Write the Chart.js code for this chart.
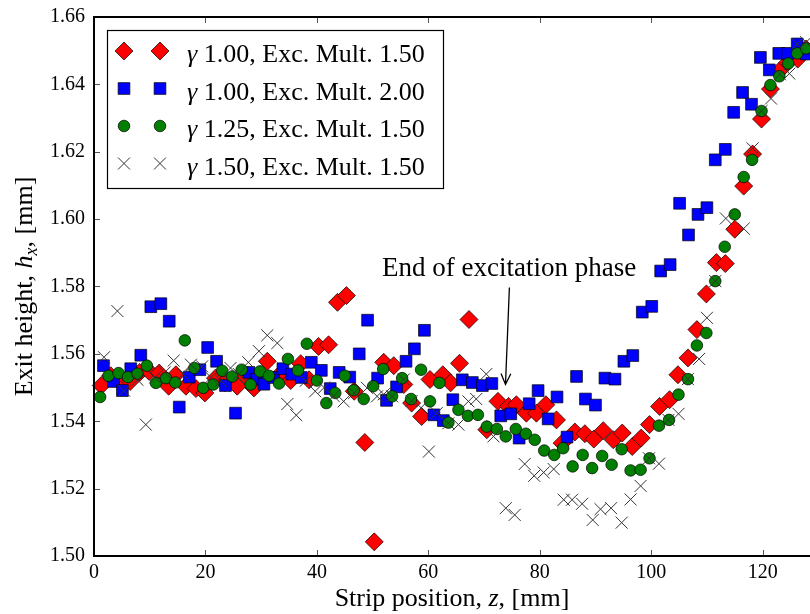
<!DOCTYPE html>
<html>
<head>
<meta charset="utf-8">
<script src="https://cdn.jsdelivr.net/npm/chart.js@4.4.0/dist/chart.umd.min.js"></script>
<style>
html, body { margin: 0; padding: 0; background: #fff; }
</style>
</head>
<body>
<canvas id="exitChart" width="810" height="614"></canvas>
<script>
const FONT = "'Liberation Serif', 'DejaVu Serif', serif";

// gamma 1.00, excitation multiplier 1.50 (red diamonds)
const g100m150_z = [1.3,3.0,4.8,6.5,8.2,9.9,11.7,13.4,14.7,16.5,18.3,19.9,21.8,23.5,25.7,27.2,28.7,31.1,33.4,35.3,37.1,38.6,40.3,42.1,43.7,45.3,46.7,48.6,50.3,52.0,53.8,55.6,57.0,58.8,60.3,62.6,64.0,65.6,67.3,70.5,72.5,74.4,75.8,77.6,79.4,81.1,83.0,84.0,86.3,88.1,89.7,91.4,93.2,94.8,96.6,98.2,99.7,101.5,103.3,104.8,106.6,108.2,109.9,111.7,113.3,115.0,116.6,118.2,119.8,121.4,123.0,124.5,126.3,127.8];
const g100m150_h = [1.5506,1.5535,1.5525,1.5518,1.5545,1.5548,1.5543,1.5504,1.5538,1.5504,1.5497,1.5484,1.5528,1.5515,1.5504,1.5535,1.5499,1.5578,1.5540,1.5521,1.5571,1.5523,1.5622,1.5627,1.5753,1.5773,1.5489,1.5337,1.5042,1.5575,1.5565,1.5509,1.5454,1.5414,1.5524,1.5538,1.5514,1.5572,1.5702,1.5375,1.5459,1.5444,1.5449,1.5424,1.5424,1.5449,1.5404,1.5335,1.5368,1.5363,1.5347,1.5372,1.5345,1.5365,1.5325,1.5350,1.5390,1.5444,1.5464,1.5538,1.5588,1.5672,1.5778,1.5871,1.5868,1.5970,1.6098,1.6193,1.6297,1.6386,1.6440,1.6465,1.6475,1.6505];

// gamma 1.00, excitation multiplier 2.00 (blue squares)
const g100m200_z = [1.7,3.5,5.1,6.6,8.4,10.2,12.0,13.5,15.3,17.1,19.0,20.4,22.0,23.6,25.4,27.8,29.2,30.5,32.2,33.9,35.5,37.2,39.0,40.8,42.4,44.0,45.9,47.6,49.1,50.9,52.5,54.3,56.0,57.5,59.3,61.0,62.7,64.4,66.1,67.9,69.7,71.4,73.0,74.8,76.3,78.1,79.7,81.5,83.1,84.9,86.6,88.2,90.0,91.7,93.5,95.1,96.7,98.4,100.1,101.7,103.4,105.1,106.7,108.4,110.0,111.5,113.3,114.8,116.4,118.0,119.6,121.2,122.9,124.5,126.2,127.8];
const g100m200_h = [1.5565,1.5518,1.5491,1.5556,1.5596,1.5740,1.5749,1.5697,1.5442,1.5531,1.5553,1.5619,1.5578,1.5506,1.5424,1.5545,1.5525,1.5510,1.5530,1.5556,1.5540,1.5530,1.5575,1.5551,1.5497,1.5545,1.5531,1.5600,1.5700,1.5528,1.5462,1.5502,1.5578,1.5615,1.5670,1.5419,1.5402,1.5464,1.5523,1.5515,1.5506,1.5512,1.5416,1.5422,1.5350,1.5452,1.5491,1.5407,1.5472,1.5353,1.5533,1.5466,1.5448,1.5528,1.5525,1.5578,1.5595,1.5724,1.5741,1.5846,1.5865,1.6047,1.5953,1.6014,1.6034,1.6176,1.6207,1.6317,1.6376,1.6341,1.6480,1.6443,1.6492,1.6492,1.6520,1.6490];

// gamma 1.25, excitation multiplier 1.50 (green circles)
const g125m150_z = [1.1,2.6,4.4,6.1,7.8,9.5,11.1,12.9,14.6,16.3,18.0,19.6,21.4,23.0,24.8,26.5,28.1,29.8,31.4,33.2,34.8,36.6,38.2,40.0,41.7,43.3,45.0,46.6,48.4,50.1,51.9,53.5,55.3,56.9,58.7,60.3,62.0,63.6,65.4,67.1,68.9,70.5,72.3,73.9,75.7,77.5,79.1,80.8,82.6,84.2,85.9,87.7,89.4,91.2,92.9,94.7,96.3,98.1,99.7,101.4,103.2,104.9,106.6,108.2,109.9,111.5,113.2,115.0,116.6,118.1,119.8,121.4,123.0,124.6,126.2,127.8];
const g125m150_h = [1.5472,1.5535,1.5543,1.5531,1.5541,1.5565,1.5514,1.5528,1.5515,1.5640,1.5558,1.5499,1.5509,1.5550,1.5533,1.5553,1.5509,1.5548,1.5535,1.5512,1.5585,1.5551,1.5630,1.5521,1.5454,1.5484,1.5535,1.5492,1.5466,1.5504,1.5555,1.5474,1.5528,1.5466,1.5553,1.5459,1.5514,1.5396,1.5434,1.5416,1.5419,1.5384,1.5377,1.5355,1.5377,1.5363,1.5345,1.5313,1.5300,1.5320,1.5266,1.5300,1.5261,1.5297,1.5271,1.5317,1.5254,1.5256,1.5290,1.5387,1.5404,1.5479,1.5525,1.5625,1.5662,1.5816,1.5918,1.6014,1.6125,1.6176,1.6321,1.6398,1.6424,1.6462,1.6492,1.6507];

// gamma 1.50, excitation multiplier 1.50 (crosses)
const g150m150_z = [1.8,4.2,5.4,7.8,9.3,11.0,12.7,14.3,16.0,17.4,19.4,21.0,22.8,24.5,26.0,27.7,29.6,31.1,32.9,34.7,36.3,38.0,39.7,41.3,43.0,44.8,46.7,49.0,50.8,52.0,53.5,55.6,57.0,58.7,60.1,61.5,63.6,65.4,67.2,68.6,70.4,71.7,73.9,75.5,77.3,79.0,80.7,82.5,84.3,85.8,87.6,89.5,90.9,92.8,94.7,96.3,98.1,99.6,101.4,103.1,104.9,106.6,108.6,110.0,111.5,113.4,116.6,118.2,119.8,121.5,123.1,124.8,126.2,127.8];
const g150m150_h = [1.5590,1.5727,1.5491,1.5523,1.5390,1.5530,1.5545,1.5580,1.5540,1.5568,1.5563,1.5530,1.5520,1.5558,1.5540,1.5575,1.5608,1.5655,1.5632,1.5451,1.5418,1.5520,1.5489,1.5500,1.5475,1.5459,1.5484,1.5499,1.5474,1.5480,1.5474,1.5524,1.5460,1.5440,1.5310,1.5424,1.5394,1.5390,1.5459,1.5466,1.5540,1.5355,1.5142,1.5122,1.5273,1.5238,1.5248,1.5258,1.5167,1.5167,1.5155,1.5107,1.5139,1.5142,1.5099,1.5168,1.5208,1.5290,1.5274,1.5404,1.5422,1.5525,1.5585,1.5707,1.5816,1.6002,1.5972,1.6210,1.6321,1.6358,1.6430,1.6432,1.6520,1.6525];

const seriesGamma = ['1.00', '1.00', '1.25', '1.50'];
const seriesMult = ['1.50', '2.00', '1.50', '1.50'];

const xTicks = [0, 20, 40, 60, 80, 100, 120];
const yTicks = [1.50, 1.52, 1.54, 1.56, 1.58, 1.60, 1.62, 1.64, 1.66];

// annotation: label + arrow, in data coordinates
const noteText = 'End of excitation phase';
const noteAt = { z: 74.5, h: 1.5830 };
const arrowFrom = { z: 74.55, h: 1.5797 };
const arrowTo = { z: 73.85, h: 1.5509 };

function toPoints(zs, hs) {
    return zs.map((z, i) => ({ x: z, y: hs[i] }));
}

const styles = [
    { pointStyle: 'rectRot', radius: 9, bg: '#ff0000', border: '#000', bw: 0.7 },
    { pointStyle: 'rect', radius: 8.3, bg: '#0000ff', border: '#000', bw: 0.7 },
    { pointStyle: 'circle', radius: 5.8, bg: '#007f00', border: '#000', bw: 0.7 },
    { pointStyle: 'crossRot', radius: 8.5, bg: '#333', border: '#333', bw: 1 }
];

const seriesData = [
    toPoints(g100m150_z, g100m150_h),
    toPoints(g100m200_z, g100m200_h),
    toPoints(g125m150_z, g125m150_h),
    toPoints(g150m150_z, g150m150_h)
];

// draw text made of runs with different font styles
function drawRuns(ctx, runs, x, y, align) {
    let total = 0;
    runs.forEach(r => {
        ctx.font = (r.italic ? 'italic ' : '') + r.size + 'px ' + FONT;
        r.w = ctx.measureText(r.t).width;
        total += r.w;
    });
    let cx = align === 'center' ? x - total / 2 : x;
    runs.forEach(r => {
        ctx.font = (r.italic ? 'italic ' : '') + r.size + 'px ' + FONT;
        ctx.fillText(r.t, cx, y + (r.dy || 0));
        cx += r.w;
    });
}

function marker(ctx, st, x, y) {
    ctx.save();
    ctx.fillStyle = st.bg;
    ctx.strokeStyle = st.border;
    ctx.lineWidth = st.bw;
    Chart.helpers.drawPoint(ctx, { pointStyle: st.pointStyle, radius: st.radius, borderWidth: st.bw, rotation: 0 }, x, y);
    ctx.restore();
}

const framePlugin = {
    id: 'frame',
    afterDraw(chart) {
        const ctx = chart.ctx;
        const area = chart.chartArea;
        const xs = chart.scales.x, ys = chart.scales.y;
        ctx.save();

        // inward tick marks
        ctx.strokeStyle = '#555';
        ctx.lineWidth = 1;
        ctx.beginPath();
        xTicks.forEach(v => {
            const px = Math.round(xs.getPixelForValue(v)) + 0.5;
            ctx.moveTo(px, area.bottom); ctx.lineTo(px, area.bottom - 6);
            ctx.moveTo(px, area.top); ctx.lineTo(px, area.top + 6);
        });
        yTicks.forEach(v => {
            const py = Math.round(ys.getPixelForValue(v)) + 0.5;
            ctx.moveTo(area.left, py); ctx.lineTo(area.left + 6, py);
        });
        ctx.stroke();

        // axes frame (no right side, it runs off the picture)
        ctx.strokeStyle = '#000';
        ctx.lineWidth = 2;
        ctx.beginPath();
        ctx.moveTo(area.right + 2, area.top);
        ctx.lineTo(area.left, area.top);
        ctx.lineTo(area.left, area.bottom);
        ctx.lineTo(area.right + 2, area.bottom);
        ctx.stroke();

        // axis titles
        ctx.fillStyle = '#000';
        ctx.textBaseline = 'alphabetic';
        ctx.textAlign = 'left';
        drawRuns(ctx, [
            { t: 'Strip position, ', size: 26 },
            { t: 'z', size: 26, italic: true },
            { t: ', [mm]', size: 26 }
        ], 452, 606, 'center');

        ctx.save();
        ctx.translate(32, (area.top + area.bottom) / 2);
        ctx.rotate(-Math.PI / 2);
        drawRuns(ctx, [
            { t: 'Exit height, ', size: 26 },
            { t: 'h', size: 26, italic: true },
            { t: 'x', size: 18, italic: true, dy: 5 },
            { t: ', [mm]', size: 26 }
        ], 0, 0, 'center');
        ctx.restore();

        // legend box
        const lx = 107, ly = 30, lw = 336, lh = 158;
        ctx.fillStyle = '#fff';
        ctx.fillRect(lx, ly, lw, lh);
        ctx.strokeStyle = '#000';
        ctx.lineWidth = 1.2;
        ctx.strokeRect(lx + 0.5, ly + 0.5, lw, lh);
        seriesGamma.forEach((g, i) => {
            const cy = 51 + i * 37.5;
            marker(ctx, styles[i], 124, cy);
            marker(ctx, styles[i], 160, cy);
            ctx.fillStyle = '#000';
            drawRuns(ctx, [
                { t: '\u03b3', size: 26, italic: true },
                { t: ' ' + g + ', Exc. Mult. ' + seriesMult[i], size: 26 }
            ], 187, cy + 11, 'left');
        });
        ctx.restore();
    },
    afterDatasetsDraw(chart) {
        const ctx = chart.ctx;
        const xs = chart.scales.x, ys = chart.scales.y;
        ctx.save();
        ctx.fillStyle = '#000';
        ctx.textBaseline = 'alphabetic';
        drawRuns(ctx, [{ t: noteText, size: 27 }], xs.getPixelForValue(noteAt.z), ys.getPixelForValue(noteAt.h), 'center');

        const x0 = xs.getPixelForValue(arrowFrom.z), y0 = ys.getPixelForValue(arrowFrom.h);
        const x1 = xs.getPixelForValue(arrowTo.z), y1 = ys.getPixelForValue(arrowTo.h);
        const ang = Math.atan2(y1 - y0, x1 - x0);
        ctx.strokeStyle = '#000';
        ctx.lineWidth = 1.3;
        ctx.beginPath();
        ctx.moveTo(x0, y0);
        ctx.lineTo(x1, y1);
        ctx.moveTo(x1 - 12 * Math.cos(ang - 0.42), y1 - 12 * Math.sin(ang - 0.42));
        ctx.lineTo(x1, y1);
        ctx.lineTo(x1 - 12 * Math.cos(ang + 0.42), y1 - 12 * Math.sin(ang + 0.42));
        ctx.stroke();
        ctx.restore();
    }
};

const ctx = document.getElementById('exitChart').getContext('2d');
const labels = seriesGamma.map((g, i) => 'γ ' + g + ', Exc. Mult. ' + seriesMult[i]);

const exitChart = new Chart(ctx, {
    type: 'scatter',
    data: {
        datasets: seriesData.map((pts, i) => ({
            label: labels[i],
            data: pts,
            pointStyle: styles[i].pointStyle,
            pointRadius: styles[i].radius,
            pointBackgroundColor: styles[i].bg,
            pointBorderColor: styles[i].border,
            pointBorderWidth: styles[i].bw,
            order: 4 - i, // red drawn first, crosses on top
            clip: false
        }))
    },
    options: {
        responsive: false,
        animation: false,
        events: [],
        layout: { autoPadding: false, padding: { top: 17, right: 0, left: 0, bottom: 0 } },
        plugins: {
            legend: { display: false },
            tooltip: { enabled: false }
        },
        scales: {
            x: {
                type: 'linear',
                min: 0,
                max: 128.5,
                afterFit: s => { s.height = 58; s.paddingLeft = 0; s.paddingRight = 0; },
                afterBuildTicks: s => { s.ticks = xTicks.map(v => ({ value: v })); },
                grid: { display: false, drawTicks: false },
                border: { display: false },
                ticks: {
                    padding: 5,
                    color: '#000',
                    font: { family: FONT, size: 20 },
                    callback: v => String(v)
                }
            },
            y: {
                type: 'linear',
                min: 1.50,
                max: 1.66,
                afterFit: s => { s.width = 94; s.paddingTop = 0; s.paddingBottom = 0; },
                afterBuildTicks: s => { s.ticks = yTicks.map(v => ({ value: v })); },
                grid: { display: false, drawTicks: false },
                border: { display: false },
                ticks: {
                    padding: 9,
                    color: '#000',
                    font: { family: FONT, size: 20 },
                    callback: v => Number(v).toFixed(2)
                }
            }
        }
    },
    plugins: [framePlugin]
});
</script>
</body>
</html>
